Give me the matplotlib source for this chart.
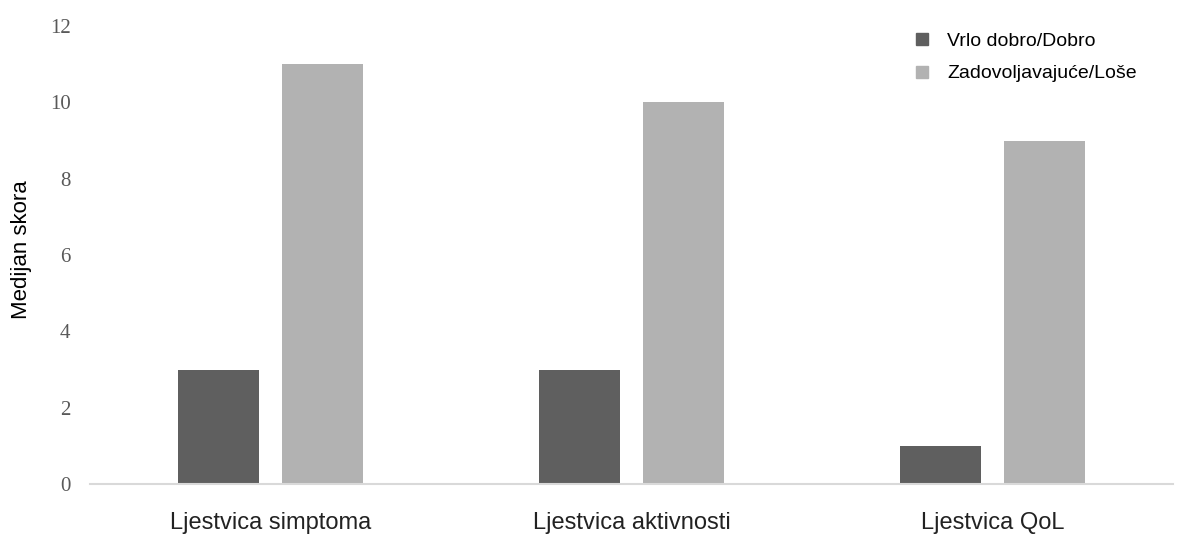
import numpy as np
import matplotlib.pyplot as plt
from matplotlib.lines import Line2D

# data
categories = ['Ljestvica simptoma', 'Ljestvica aktivnosti', 'Ljestvica QoL']
series_names = ['Vrlo dobro/Dobro', 'Zadovoljavajuće/Loše']
good = [3, 3, 1]
poor = [11, 10, 9]
yticks = [0, 2, 4, 6, 8, 10, 12]

dark = '#5f5f5f'
light = '#b2b2b2'

fig = plt.figure(figsize=(11.86, 5.34), dpi=100)
ax = fig.add_axes([90 / 1186, 50 / 534, 1083 / 1186, 458 / 534])

x = np.arange(len(categories))
w = 0.224
off = 0.143
ax.bar(x - off, good, w, color=dark, zorder=2)
ax.bar(x + off, poor, w, color=light, zorder=2)

ax.set_xlim(-0.5, 2.5)
ax.set_ylim(0, 12)
ax.set_yticks(yticks)
ax.set_yticklabels([str(t) for t in yticks], family='Liberation Serif',
                   fontsize=15, color='#595959')
ax.set_xticks(x)
ax.set_xticklabels(categories, family='Liberation Sans', fontsize=17,
                   color='#222222')
ax.tick_params(axis='both', length=0)
ax.tick_params(axis='y', pad=14)
ax.tick_params(axis='x', pad=20)

for s in ['top', 'right', 'left']:
    ax.spines[s].set_visible(False)
ax.spines['bottom'].set_color('#d9d9d9')
ax.spines['bottom'].set_linewidth(1.5)

fig.text(22 / 1186, 1 - 250 / 534, 'Medijan skora', rotation=90,
         family='Liberation Sans', fontsize=16, ha='center', va='center')

handles = [Line2D([], [], marker='s', linestyle='none', color=c, markersize=8)
           for c in [dark, light]]
leg = fig.legend(handles, series_names, loc='upper left',
                 bbox_to_anchor=(893 / 1186, 1 - 15 / 534), frameon=False,
                 prop={'family': 'Liberation Sans', 'size': 14},
                 handletextpad=0.7, labelspacing=0.75, handlelength=1.2)

fig.savefig('out.png', dpi=100)
